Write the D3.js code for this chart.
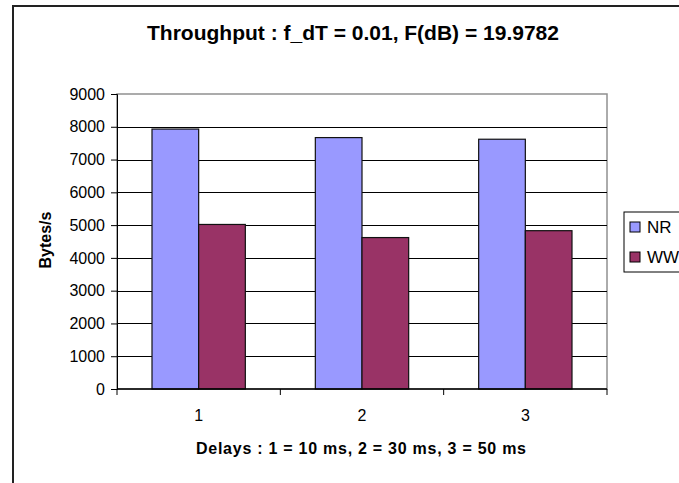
<!DOCTYPE html>
<html>
<head>
<meta charset="utf-8">
<script src="https://cdn.jsdelivr.net/npm/d3@7"></script>
<style>
  body { margin: 0; background: #fff; }
  svg text { font-family: "Liberation Sans", Arial, sans-serif; fill: #000; }
</style>
</head>
<body>
<div id="chart"></div>
<script>
const categories = ["1", "2", "3"];
const seriesNames = ["NR", "WW"];
const nrValues = [7930, 7670, 7620];
const wwValues = [5020, 4620, 4830];
const yTicks = [0, 1000, 2000, 3000, 4000, 5000, 6000, 7000, 8000, 9000];
const colors = ["#9999ff", "#993366"];

const width = 679;
const height = 483;
const plot = { left: 117, right: 607, top: 94, bottom: 389 };

let svg = d3.select("#chart").append("svg")
    .attr("width", width)
    .attr("height", height);

// chart frame (cut off on the right and bottom)
svg.append("rect")
    .attr("x", 13).attr("y", 6)
    .attr("width", 800).attr("height", 600)
    .attr("fill", "#fff")
    .attr("stroke", "#222").attr("stroke-width", 2);

svg.append("text")
    .attr("x", 353).attr("y", 40)
    .attr("text-anchor", "middle")
    .style("font-size", "21px")
    .style("font-weight", "bold")
    .text("Throughput : f_dT = 0.01, F(dB) = 19.9782");

let x0 = d3.scaleBand()
    .domain(categories)
    .range([plot.left, plot.right]);

let x1 = d3.scaleBand()
    .domain(seriesNames)
    .range([0, x0.bandwidth()])
    .paddingOuter(0.75)
    .paddingInner(0);

let y = d3.scaleLinear()
    .domain([0, 9000])
    .range([plot.bottom, plot.top]);

// plot frame
svg.append("rect")
    .attr("x", plot.left).attr("y", plot.top)
    .attr("width", plot.right - plot.left)
    .attr("height", plot.bottom - plot.top)
    .attr("fill", "#fff")
    .attr("stroke", "#909090").attr("stroke-width", 1.5);

// gridlines
svg.append("g")
    .selectAll("line")
    .data(yTicks.filter(d => d > 0 && d < 9000))
    .join("line")
    .attr("x1", plot.left).attr("x2", plot.right)
    .attr("y1", d => Math.round(y(d)) + 0.5)
    .attr("y2", d => Math.round(y(d)) + 0.5)
    .attr("stroke", "#000").attr("stroke-width", 1);

let rows = categories.map((c, i) => ({ cat: c, values: [nrValues[i], wwValues[i]] }));

svg.append("g")
    .selectAll("g")
    .data(rows)
    .join("g")
    .attr("transform", d => `translate(${x0(d.cat)},0)`)
    .selectAll("rect")
    .data(d => d.values.map((v, j) => ({ name: seriesNames[j], value: v, j: j })))
    .join("rect")
    .attr("x", d => x1(d.name))
    .attr("y", d => y(d.value))
    .attr("width", x1.bandwidth())
    .attr("height", d => y(0) - y(d.value))
    .attr("fill", d => colors[d.j])
    .attr("stroke", "#111").attr("stroke-width", 1.2);

// y axis
let yAxis = svg.append("g")
    .attr("transform", `translate(${plot.left},0)`)
    .call(d3.axisLeft(y).tickValues(yTicks).tickSize(6).tickPadding(6).tickFormat(d3.format("d")));
yAxis.selectAll("text").style("font-size", "16px");
yAxis.selectAll("line, path").attr("stroke", "#000");

// x axis with boundary ticks
let xAxis = svg.append("g")
    .attr("transform", `translate(0,${plot.bottom})`);
xAxis.append("line")
    .attr("x1", plot.left).attr("x2", plot.right)
    .attr("stroke", "#000").attr("stroke-width", 1.5);
xAxis.selectAll(".bt")
    .data(categories.concat(["end"]))
    .join("line")
    .attr("class", "bt")
    .attr("x1", (d, i) => plot.left + i * x0.step())
    .attr("x2", (d, i) => plot.left + i * x0.step())
    .attr("y1", 0).attr("y2", 6)
    .attr("stroke", "#000");
xAxis.selectAll("text")
    .data(categories)
    .join("text")
    .attr("x", d => x0(d) + x0.bandwidth() / 2)
    .attr("y", 32)
    .attr("text-anchor", "middle")
    .style("font-size", "16px")
    .text(d => d);

svg.append("text")
    .attr("x", 361).attr("y", 454)
    .attr("text-anchor", "middle")
    .attr("textLength", 330)
    .attr("lengthAdjust", "spacing")
    .style("font-size", "16px")
    .style("font-weight", "bold")
    .text("Delays : 1 = 10 ms, 2 = 30 ms, 3 = 50 ms");

svg.append("text")
    .attr("transform", "translate(51,240) rotate(-90)")
    .attr("text-anchor", "middle")
    .style("font-size", "16px")
    .style("font-weight", "bold")
    .text("Bytes/s");

// legend
let legend = svg.append("g");
legend.append("rect")
    .attr("x", 624).attr("y", 212)
    .attr("width", 100).attr("height", 60)
    .attr("fill", "#fff")
    .attr("stroke", "#000").attr("stroke-width", 1);
let items = legend.selectAll(".item")
    .data(seriesNames)
    .join("g")
    .attr("class", "item")
    .attr("transform", (d, i) => `translate(630,${227 + i * 30})`);
items.append("rect")
    .attr("x", 0).attr("y", -5)
    .attr("width", 10).attr("height", 10)
    .attr("fill", (d, i) => colors[i])
    .attr("stroke", "#000");
items.append("text")
    .attr("x", 17).attr("y", 6)
    .style("font-size", "17px")
    .text(d => d);
</script>
</body>
</html>
